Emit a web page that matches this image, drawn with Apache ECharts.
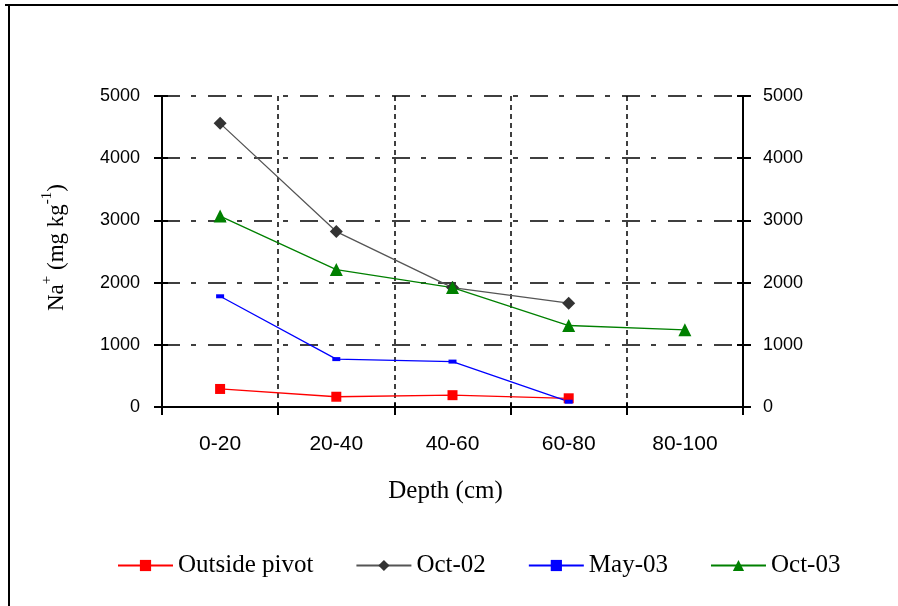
<!DOCTYPE html>
<html>
<head>
<meta charset="utf-8">
<script src="https://cdn.jsdelivr.net/npm/echarts@6/dist/echarts.min.js"></script>
<style>
  html, body { margin: 0; padding: 0; background: #fff; }
  #chart { width: 898px; height: 606px; }
</style>
</head>
<body>
<div id="chart"></div>
<script>
// Soil depth classes (cm)
const depths = ['0-20', '20-40', '40-60', '60-80', '80-100'];

// Na+ concentration (mg kg-1) per sampling
const outsidePivot = [290, 165, 190, 140, null];
const oct02 = [4560, 2820, 1920, 1670, null];
const may03 = [1780, 770, 730, 85, null];
const oct03 = [3070, 2210, 1920, 1310, 1240];

// y-axis ticks
const yMin = 0, yMax = 5000, yStep = 1000;

const serif = '"Liberation Serif", "Times New Roman", serif';
const sans = '"Liberation Sans", Arial, sans-serif';

const chart = echarts.init(document.getElementById('chart'), null, { renderer: 'canvas' });

const gridDashH = { color: '#000', width: 1.5, type: [18, 11, 5, 12] };
const gridDashV = { color: '#000', width: 1.5, type: [5, 4] };

function lineSeries(name, data, lineColor, markColor, symbol, size) {
  return {
    name, type: 'line', data,
    xAxisIndex: 0, yAxisIndex: 0,
    symbol, symbolSize: size,
    connectNulls: false,
    lineStyle: { color: lineColor, width: 1.3 },
    itemStyle: { color: markColor, borderWidth: 0 },
    emphasis: { disabled: true },
    animation: false,
    z: 5
  };
}

const plainNumber = v => String(v);

const option = {
  backgroundColor: '#fff',
  animation: false,
  graphic: [
    { type: 'line', shape: { x1: 5, y1: 5, x2: 898, y2: 5 }, style: { stroke: '#000', lineWidth: 2 } },
    { type: 'line', shape: { x1: 9, y1: 5, x2: 9, y2: 606 }, style: { stroke: '#000', lineWidth: 2 } }
  ],
  grid: { left: 162, right: 155, top: 96, bottom: 199, containLabel: false },
  legend: {
    left: 112, top: 548,
    itemWidth: 55, itemHeight: 14, itemGap: 42,
    formatter: name => name === 'Outside pivot' ? '{wide|' + name + '}' : '{n|' + name + '}',
    textStyle: {
      fontFamily: serif, fontSize: 25, color: '#000',
      rich: {
        wide: { fontFamily: serif, fontSize: 25, color: '#000', width: 145 },
        n: { fontFamily: serif, fontSize: 25, color: '#000' }
      }
    },
    data: ['Outside pivot', 'Oct-02', 'May-03', 'Oct-03']
  },
  xAxis: [
    {
      type: 'category', data: depths, boundaryGap: true, position: 'bottom',
      name: 'Depth (cm)', nameLocation: 'middle', nameGap: 72,
      nameTextStyle: { fontFamily: serif, fontSize: 25, color: '#000', padding: [0, 14, 0, 0] },
      axisLine: { lineStyle: { color: '#000', width: 2 } },
      axisTick: { show: true, inside: false, length: 8, lineStyle: { color: '#000', width: 2 } },
      axisLabel: { margin: 27, fontFamily: sans, fontSize: 21, color: '#000' },
      splitLine: { show: true, lineStyle: gridDashV }
    },
    {
      type: 'category', data: depths, boundaryGap: true, position: 'bottom',
      axisLine: { show: false },
      axisTick: { show: true, inside: true, length: 4, lineStyle: { color: '#000', width: 2 } },
      axisLabel: { show: false },
      splitLine: { show: false }
    }
  ],
  yAxis: [
    {
      type: 'value', min: yMin, max: yMax, interval: yStep, position: 'left',
      name: '{b|Na}{s|+}{b| (mg kg}{s|-1}{b|)}',
      nameLocation: 'middle', nameGap: 94, nameRotate: 90,
      nameTextStyle: {
        padding: [0, 0, 0, 8],
        rich: {
          b: { fontFamily: serif, fontSize: 23, color: '#000', verticalAlign: 'bottom', lineHeight: 28 },
          s: { fontFamily: serif, fontSize: 15, color: '#000', verticalAlign: 'top', lineHeight: 28, padding: [0, 0, 12, 0] }
        }
      },
      axisLine: { show: true, lineStyle: { color: '#000', width: 2 } },
      axisTick: { show: true, inside: false, length: 8, lineStyle: { color: '#000', width: 2 } },
      axisLabel: { margin: 22, fontFamily: sans, fontSize: 18, color: '#000', formatter: plainNumber },
      splitLine: { show: true, lineStyle: gridDashH }
    },
    {
      type: 'value', min: yMin, max: yMax, interval: yStep, position: 'left',
      axisLine: { show: false },
      axisTick: { show: true, inside: true, length: 6, lineStyle: { color: '#000', width: 2 } },
      axisLabel: { show: false },
      splitLine: { show: false }
    },
    {
      type: 'value', min: yMin, max: yMax, interval: yStep, position: 'right',
      axisLine: { show: true, lineStyle: { color: '#000', width: 2 } },
      axisTick: { show: true, inside: false, length: 8, lineStyle: { color: '#000', width: 2 } },
      axisLabel: { margin: 20, fontFamily: sans, fontSize: 18, color: '#000', formatter: plainNumber },
      splitLine: { show: false }
    },
    {
      type: 'value', min: yMin, max: yMax, interval: yStep, position: 'right',
      axisLine: { show: false },
      axisTick: { show: true, inside: true, length: 6, lineStyle: { color: '#000', width: 2 } },
      axisLabel: { show: false },
      splitLine: { show: false }
    }
  ],
  series: [
    lineSeries('Outside pivot', outsidePivot, '#ff0000', '#ff0000', 'rect', 10),
    lineSeries('Oct-02', oct02, '#555555', '#333333', 'diamond', 13),
    lineSeries('May-03', may03, '#0000ff', '#0000ff', 'rect', [8, 4]),
    lineSeries('Oct-03', oct03, '#008000', '#008000', 'triangle', 13)
  ]
};

chart.setOption(option);
</script>
</body>
</html>
